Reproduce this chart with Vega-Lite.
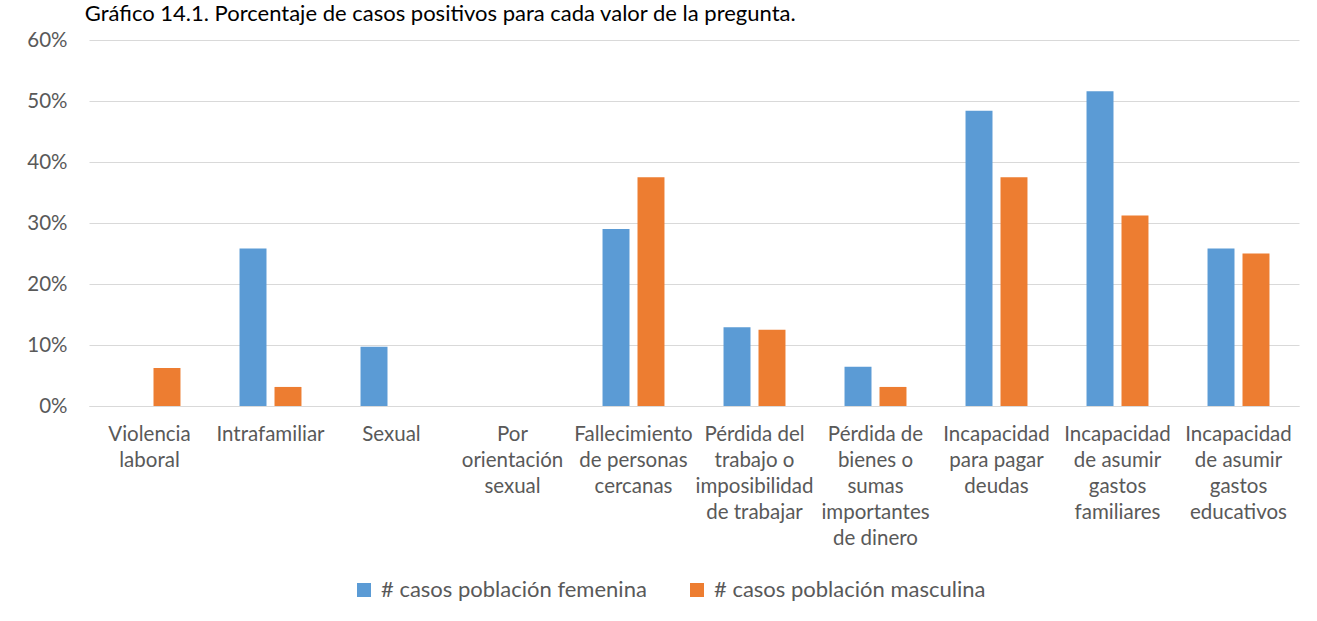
{
  "$schema": "https://vega.github.io/schema/vega-lite/v6.json",
  "autosize": "none",
  "width": 1210,
  "height": 366,
  "padding": {"left": 89, "top": 40, "right": 18, "bottom": 215},
  "background": "white",
  "title": {
    "text": "Gráfico 14.1. Porcentaje de casos positivos para cada valor de la pregunta.",
    "anchor": "start",
    "baseline": "top",
    "offset": 0,
    "dy": -4,
    "dx": 58,
    "font": "Lato",
    "fontSize": 22,
    "fontWeight": "normal",
    "color": "#000000"
  },
  "data": {
    "values": [
      {"cat": "Violencia|laboral", "serie": "# casos población femenina", "valor": 0},
      {"cat": "Violencia|laboral", "serie": "# casos población masculina", "valor": 0.0625},
      {"cat": "Intrafamiliar", "serie": "# casos población femenina", "valor": 0.258},
      {"cat": "Intrafamiliar", "serie": "# casos población masculina", "valor": 0.03125},
      {"cat": "Sexual", "serie": "# casos población femenina", "valor": 0.097},
      {"cat": "Sexual", "serie": "# casos población masculina", "valor": 0},
      {"cat": "Por|orientación|sexual", "serie": "# casos población femenina", "valor": 0},
      {"cat": "Por|orientación|sexual", "serie": "# casos población masculina", "valor": 0},
      {"cat": "Fallecimiento|de personas|cercanas", "serie": "# casos población femenina", "valor": 0.29},
      {"cat": "Fallecimiento|de personas|cercanas", "serie": "# casos población masculina", "valor": 0.375},
      {"cat": "Pérdida del|trabajo o|imposibilidad|de trabajar", "serie": "# casos población femenina", "valor": 0.129},
      {"cat": "Pérdida del|trabajo o|imposibilidad|de trabajar", "serie": "# casos población masculina", "valor": 0.125},
      {"cat": "Pérdida de|bienes o|sumas|importantes|de dinero", "serie": "# casos población femenina", "valor": 0.0645},
      {"cat": "Pérdida de|bienes o|sumas|importantes|de dinero", "serie": "# casos población masculina", "valor": 0.03125},
      {"cat": "Incapacidad|para pagar|deudas", "serie": "# casos población femenina", "valor": 0.484},
      {"cat": "Incapacidad|para pagar|deudas", "serie": "# casos población masculina", "valor": 0.375},
      {"cat": "Incapacidad|de asumir|gastos|familiares", "serie": "# casos población femenina", "valor": 0.516},
      {"cat": "Incapacidad|de asumir|gastos|familiares", "serie": "# casos población masculina", "valor": 0.3125},
      {"cat": "Incapacidad|de asumir|gastos|educativos", "serie": "# casos población femenina", "valor": 0.258},
      {"cat": "Incapacidad|de asumir|gastos|educativos", "serie": "# casos población masculina", "valor": 0.25}
    ]
  },
  "mark": {"type": "bar"},
  "encoding": {
    "x": {
      "field": "cat",
      "type": "nominal",
      "sort": ["Violencia|laboral", "Intrafamiliar", "Sexual", "Por|orientación|sexual", "Fallecimiento|de personas|cercanas", "Pérdida del|trabajo o|imposibilidad|de trabajar", "Pérdida de|bienes o|sumas|importantes|de dinero", "Incapacidad|para pagar|deudas", "Incapacidad|de asumir|gastos|familiares", "Incapacidad|de asumir|gastos|educativos"],
      "scale": {"paddingInner": 0.488, "paddingOuter": 0.244},
      "axis": {
        "title": null,
        "labelAngle": 0,
        "labelExpr": "split(datum.value, '|')",
        "labelFont": "Lato",
        "labelFontSize": 20.5,
        "labelColor": "#595959",
        "labelLineHeight": 26,
        "labelPadding": 18,
        "labelBaseline": "top",
        "labelAlign": "center",
        "ticks": false,
        "tickSize": 0,
        "domainColor": "#d9d9d9",
        "domainWidth": 1,
        "labelLimit": 0
      }
    },
    "xOffset": {
      "field": "serie",
      "type": "nominal",
      "scale": {"paddingInner": 0.229, "paddingOuter": 0}
    },
    "y": {
      "field": "valor",
      "type": "quantitative",
      "scale": {"domain": [0, 0.6], "nice": false},
      "axis": {
        "title": null,
        "values": [0, 0.1, 0.2, 0.3, 0.4, 0.5, 0.6],
        "format": ".0%",
        "labelFont": "Lato",
        "labelFontSize": 20.5,
        "labelColor": "#595959",
        "labelPadding": 22,
        "ticks": false,
        "tickSize": 0,
        "domain": false,
        "grid": true,
        "gridColor": "#d9d9d9",
        "gridWidth": 1
      }
    },
    "color": {
      "field": "serie",
      "type": "nominal",
      "scale": {"domain": ["# casos población femenina", "# casos población masculina"], "range": ["#5B9BD5", "#ED7D31"]},
      "legend": {
        "title": null,
        "orient": "none",
        "legendX": 264,
        "legendY": 539,
        "direction": "horizontal",
        "symbolType": "square",
        "symbolSize": 196,
        "symbolStrokeWidth": 0,
        "labelFont": "Lato",
        "labelFontSize": 22,
        "labelColor": "#595959",
        "labelOffset": 6,
        "columnPadding": 39,
        "labelLimit": 0
      }
    }
  },
  "config": {
    "view": {"stroke": null}
  }
}
